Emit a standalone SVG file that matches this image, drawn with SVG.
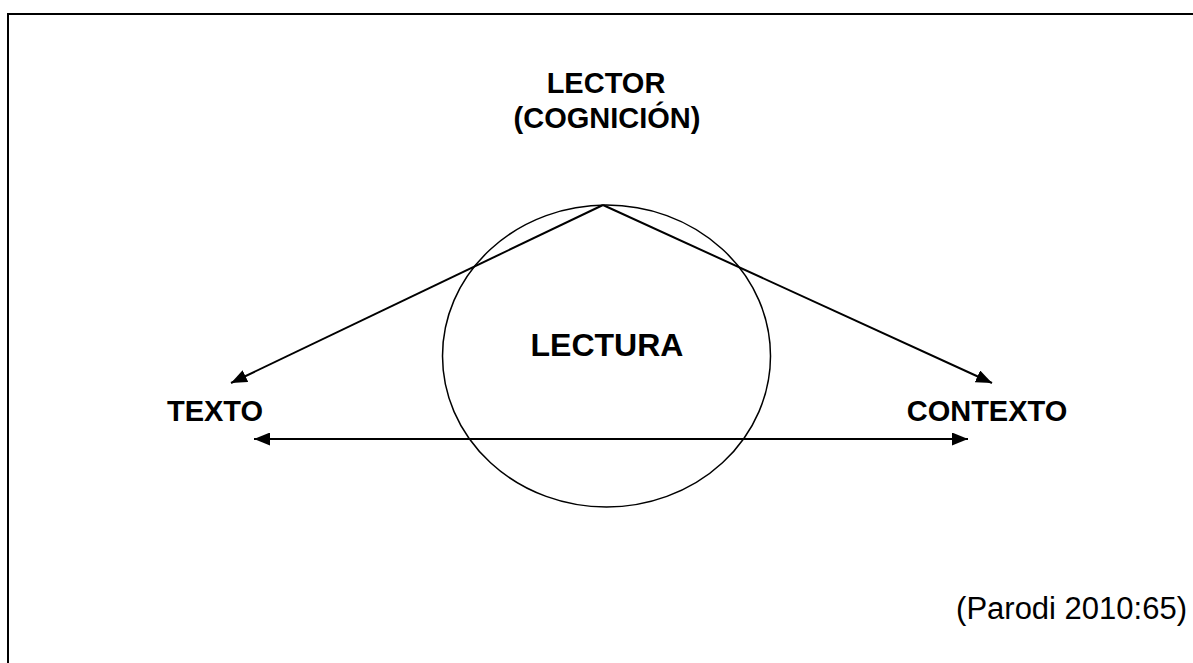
<svg xmlns="http://www.w3.org/2000/svg" width="1193" height="663" viewBox="0 0 1193 663">
  <style>
    .b { font-family: "Liberation Sans", Arial, sans-serif; font-weight: bold; font-size: 29px; fill: #000; text-anchor: middle; }
    .r { font-family: "Liberation Sans", Arial, sans-serif; font-size: 31px; fill: #000; text-anchor: end; }
    .ln { stroke: #000; stroke-width: 2; fill: none; }
  </style>
  <defs>
    <marker id="ah" viewBox="0 0 16 13" refX="16" refY="6.5" markerWidth="16" markerHeight="13" markerUnits="userSpaceOnUse" orient="auto-start-reverse">
      <path d="M0,0 L16,6.5 L0,13 Z" fill="#000"/>
    </marker>
  </defs>
  <rect width="1193" height="663" fill="#fff"/>
  <g id="frame">
    <path d="M8,663 L8,14 L1193,14" stroke="#000" stroke-width="2" fill="none"/>
  </g>
  <g id="lectura">
    <ellipse cx="606.5" cy="356" rx="164" ry="151" fill="none" stroke="#000" stroke-width="1.5"/>
    <text class="b" x="607" y="356" style="font-size:32px">LECTURA</text>
  </g>
  <g id="lector">
    <text class="b" x="606" y="93">LECTOR</text>
    <text class="b" x="607" y="128">(COGNICIÓN)</text>
  </g>
  <g id="texto">
    <text class="b" x="215" y="421">TEXTO</text>
  </g>
  <g id="contexto">
    <text class="b" x="987" y="421">CONTEXTO</text>
  </g>
  <g id="connectors">
    <line class="ln" x1="603" y1="205" x2="231" y2="383" marker-end="url(#ah)"/>
    <line class="ln" x1="603" y1="205" x2="992" y2="383" marker-end="url(#ah)"/>
    <line class="ln" x1="254" y1="439" x2="968" y2="439" marker-start="url(#ah)" marker-end="url(#ah)"/>
  </g>
  <g id="source">
    <text class="r" x="1187" y="619">(Parodi 2010:65)</text>
  </g>
</svg>
